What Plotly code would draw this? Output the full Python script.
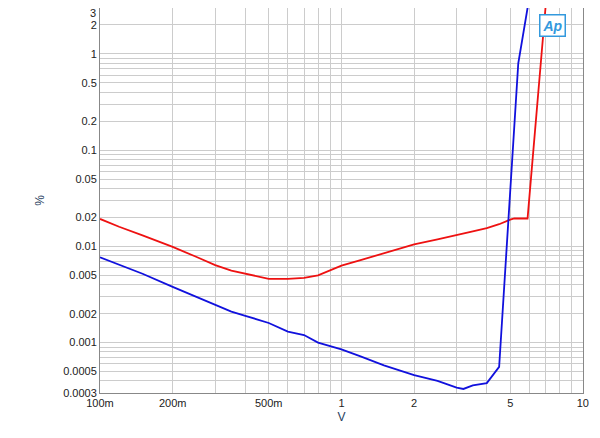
import plotly.graph_objects as go

red_x = [0.1,0.12,0.15,0.2,0.25,0.3,0.35,0.4,0.5,0.6,0.7,0.8,1.0,1.2,1.5,2.0,2.5,3.0,3.5,4.0,4.5,5.0,5.2,5.9,7.0,7.3]
red_y = [0.0193,0.016,0.013,0.0099,0.0078,0.0064,0.0056,0.0052,0.0046,0.0046,0.0047,0.005,0.0063,0.0072,0.0085,0.0105,0.0118,0.013,0.0143,0.0155,0.017,0.019,0.0195,0.0195,3.0,6.0]
blue_x = [0.1,0.12,0.15,0.2,0.25,0.3,0.35,0.4,0.5,0.6,0.7,0.8,1.0,1.2,1.5,2.0,2.5,3.0,3.2,3.5,4.0,4.5,5.0,5.4,5.9,6.2]
blue_y = [0.0077,0.0065,0.0052,0.0038,0.003,0.0025,0.0021,0.0019,0.0016,0.0013,0.0012,0.001,0.00085,0.00072,0.00058,0.00046,0.0004,0.00034,0.00033,0.00036,0.00038,0.00056,0.04,0.8,3.0,6.0]

x_labels = {0.1:"100m",0.2:"200m",0.5:"500m",1:"1",2:"2",5:"5",10:"10"}
y_labels = {0.0003:"0.0003",0.0005:"0.0005",0.001:"0.001",0.002:"0.002",0.005:"0.005",0.01:"0.01",
            0.02:"0.02",0.05:"0.05",0.1:"0.1",0.2:"0.2",0.5:"0.5",1:"1",2:"2",3:"3"}
y_top_label = 3

def grid(dec_lo, dec_hi, labels):
    vals, txt = [], []
    for d in range(dec_lo, dec_hi + 1):
        for m in range(1, 10):
            v = round(m * 10.0 ** d, 10)
            vals.append(v)
            lab = ""
            for k, t in labels.items():
                if abs(k - v) / k < 1e-6:
                    lab = t
            txt.append(lab)
    return vals, txt

xv, xt = grid(-1, 1, x_labels)
yv, yt = grid(-4, 0, y_labels)

fig = go.Figure()
fig.add_trace(go.Scatter(x=red_x, y=red_y, mode="lines", line=dict(color="#ee1111", width=1.8)))
fig.add_trace(go.Scatter(x=blue_x, y=blue_y, mode="lines", line=dict(color="#1111dd", width=1.8)))
ax = dict(showline=True, linecolor="#888", mirror=True, gridcolor="#cccccc", ticks="",
          tickfont=dict(family="Liberation Sans, Arial", size=11, color="#222"))
fig.update_xaxes(type="log", range=[-1, 1.0005], tickvals=xv, ticktext=xt,
                 title=dict(text="V", font=dict(size=12), standoff=4), **ax)
fig.update_yaxes(type="log", range=[-3.5235, 0.4775], tickvals=yv, ticktext=yt,
                 title=dict(text="%", font=dict(size=12)), **ax)
fig.add_annotation(x=0, y=1, xref="paper", yref="paper", text=str(y_top_label), showarrow=False,
                   xanchor="right", yanchor="top", xshift=-2, yshift=3,
                   font=dict(family="Liberation Sans, Arial", size=11, color="#222"))
fig.add_annotation(x=0.965, y=0.985, xref="paper", yref="paper", text="<i><b>Ap</b></i>", showarrow=False,
                   font=dict(color="#3399dd", size=14), bordercolor="#3399dd", borderwidth=1.5, borderpad=2, bgcolor="white")
fig.update_layout(width=600, height=438, showlegend=False, plot_bgcolor="white", paper_bgcolor="white",
                  margin=dict(l=92, r=25, t=0, b=53), font=dict(family="Liberation Sans, Arial"))
fig.write_html("out.html")
